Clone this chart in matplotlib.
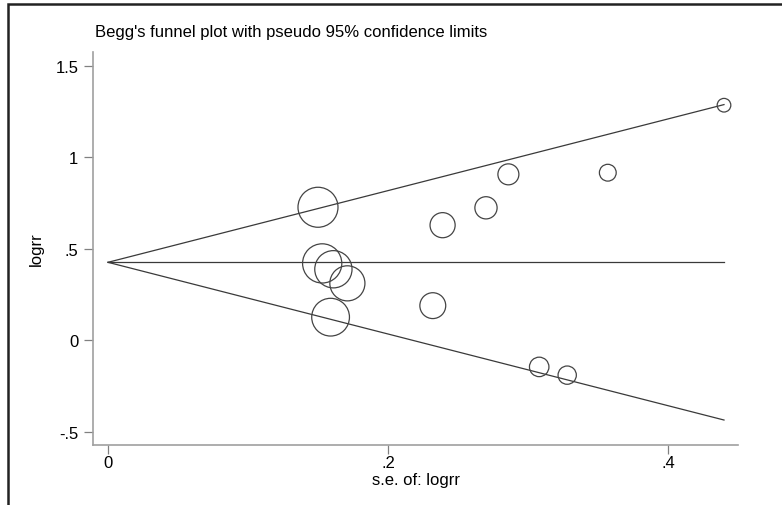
import matplotlib
matplotlib.use("Agg")
import matplotlib.pyplot as plt
from matplotlib.patches import Rectangle
import numpy as np

plt.rcParams['font.family'] = ['Liberation Sans', 'DejaVu Sans']

# Data: standard error and log relative risk of each study
se = [0.150, 0.153, 0.161, 0.171, 0.159, 0.239, 0.232, 0.270, 0.286, 0.357, 0.308, 0.328, 0.440]
logrr = [0.727, 0.420, 0.388, 0.311, 0.126, 0.629, 0.189, 0.724, 0.907, 0.916, -0.146, -0.191, 1.285]
pooled = 0.426
se_max = 0.44

xticks = [0, 0.2, 0.4]
xticklabels = ["0", ".2", ".4"]
yticks = [-0.5, 0, 0.5, 1, 1.5]
yticklabels = ["-.5", "0", ".5", "1", "1.5"]

W, H = 782, 506
fig = plt.figure(figsize=(W / 100, H / 100), dpi=100)
ax = fig.add_axes([93 / W, 1 - 446 / H, (738 - 93) / W, (446 - 53) / H])

lc = '#3a3a3a'
xs = np.array([0, se_max])
ax.plot(xs, pooled + 1.96 * xs, color=lc, lw=0.9)
ax.plot(xs, pooled - 1.96 * xs, color=lc, lw=0.9)
ax.plot(xs, [pooled, pooled], color=lc, lw=0.9)

se_a = np.array(se)
sizes = (4.32 / se_a) ** 2
ax.scatter(se, logrr, s=sizes, facecolors='none', edgecolors='#444444', linewidths=0.9, zorder=3)

ax.set_xlim(-0.0107, 0.45)
ax.set_ylim(-0.573, 1.576)
ax.set_xticks(xticks)
ax.set_xticklabels(xticklabels)
ax.set_yticks(yticks)
ax.set_yticklabels(yticklabels)
for s in ['top', 'right']:
    ax.spines[s].set_visible(False)
for s in ['left', 'bottom']:
    ax.spines[s].set_color('#a0a0a0')
    ax.spines[s].set_linewidth(1.2)
ax.tick_params(direction='out', length=6.5, width=0.9, color='#808080', labelsize=12)
ax.tick_params(axis='x', pad=0.5)
ax.tick_params(axis='y', pad=4)
ax.set_xlabel('s.e. of: logrr', fontsize=12, labelpad=1.5)
ax.set_ylabel('logrr', fontsize=12, labelpad=8.5)

fig.text(95 / W, 1 - 33 / H, "Begg's funnel plot with pseudo 95% confidence limits",
         fontsize=12, ha='left', va='center')

# outer frame
fig.patches.append(Rectangle((8 / W, -0.05), 1.2, 1 - 5 / H + 0.05, transform=fig.transFigure,
                             fill=False, edgecolor='#222222', lw=1.8))

fig.savefig('out.png', dpi=100)
